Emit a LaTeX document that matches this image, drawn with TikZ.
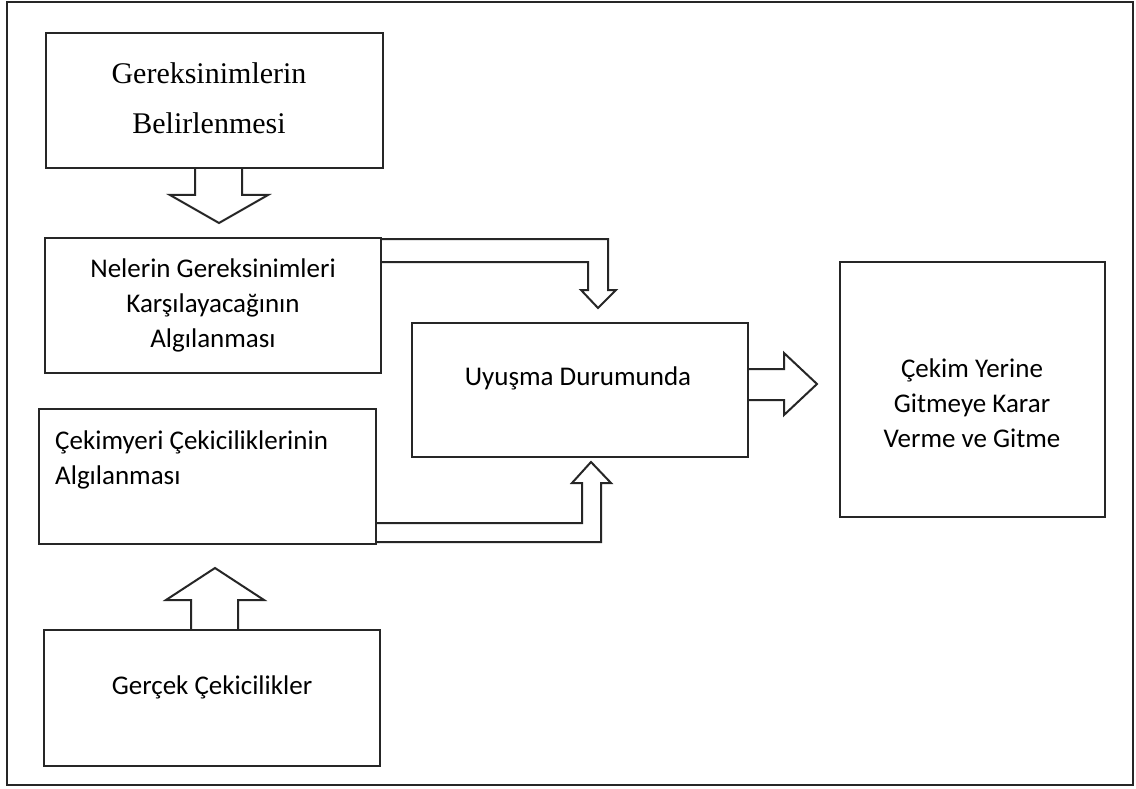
\documentclass[tikz,border=0pt]{standalone}
\usepackage{fontspec}
\setmainfont{Carlito}
\newfontfamily\serifx{Liberation Serif}
\begin{document}
\begin{tikzpicture}[x=1pt,y=-1pt,
  box/.style={draw=black!85,line width=2pt,inner sep=0pt,outer sep=0pt,fill=white},
  txt/.style={align=center,inner sep=0pt,font=\fontsize{27}{35}\selectfont},
  stxt/.style={align=center,inner sep=0pt,font=\serifx\fontsize{30}{50}\selectfont},
  blk/.style={draw=black!85,line width=2pt,fill=white,line join=miter}]
\useasboundingbox (0,0) rectangle (1136,789);
\fill[white] (0,0) rectangle (1136,789);
\node[draw=black!85,line width=2pt,inner sep=0pt,minimum width=1126,minimum height=783] (frame) at (570,393.5) {};
% block arrows
\draw[blk] (195,168) -- (195,195) -- (170,195) -- (219,223) -- (268,195) -- (242,195) -- (242,168);
\draw[blk] (381,239) -- (608,239) -- (608,290) -- (616,290) -- (598,308) -- (581,290) -- (588,290) -- (588,262) -- (381,262);
\draw[blk] (376,542) -- (601,542) -- (601,483) -- (611,483) -- (591,462) -- (572,483) -- (582,483) -- (582,523) -- (376,523);
\draw[blk] (748,369) -- (784,369) -- (784,353) -- (817,384) -- (784,415) -- (784,400) -- (748,400);
\draw[blk] (191,630) -- (191,600) -- (166,600) -- (215,568) -- (264,600) -- (238,600) -- (238,630);
% boxes
\node[box,minimum width=337,minimum height=135] (b1) at (214.5,100.5) {};
\node[box,minimum width=336,minimum height=135] (b2) at (213,305.5) {};
\node[box,minimum width=337,minimum height=135] (b3) at (207.5,476.5) {};
\node[box,minimum width=336,minimum height=136] (b4) at (212,698) {};
\node[box,minimum width=336,minimum height=134] (bu) at (580,390) {};
\node[box,minimum width=265,minimum height=255] (bc) at (972.5,389.5) {};
\node[stxt] (t1) at (209,98) {Gereksinimlerin\\Belirlenmesi};
\node[txt] (t2) at (213,305) {Nelerin Gereksinimleri\\Karşılayacağının\\Algılanması};
\node[txt,align=left,anchor=west] (t3) at (55,460) {Çekimyeri Çekiciliklerinin\\Algılanması};
\node[txt] (t4) at (212,687) {Gerçek Çekicilikler};
\node[txt] (tu) at (578,378) {Uyuşma Durumunda};
\node[txt] (tc) at (972,403) {Çekim Yerine\\Gitmeye Karar\\Verme ve Gitme};
\end{tikzpicture}
\end{document}
